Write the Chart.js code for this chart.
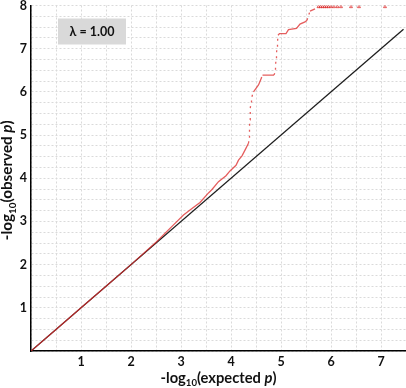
<!DOCTYPE html>
<html>
<head>
<meta charset="utf-8">
<script src="https://cdn.jsdelivr.net/npm/chart.js@4/dist/chart.umd.min.js"></script>
<style>
  html, body { margin: 0; padding: 0; background: #ffffff; }
  canvas { display: block; }
</style>
</head>
<body>
<canvas id="c" width="406" height="388"></canvas>
<script>
// ---- data ----
// red QQ points: expected -log10(p) and observed -log10(p)
const expectedRed = [0, 0.5, 1.0, 1.5, 2.0, 2.5, 2.85, 3.05, 3.2, 3.38, 3.55, 3.62, 3.75, 3.9, 3.98, 4.1, 4.15, 4.22, 4.28, 4.35,
  4.36, 4.37, 4.37, 4.38, 4.38, 4.39, 4.40, 4.41, 4.45, 4.50, 4.55, 4.60, 4.63, 4.70, 4.78, 4.86,
  4.88, 4.89, 4.90, 4.91, 4.92, 4.93, 4.94, 4.97, 5.04, 5.10, 5.15, 5.31, 5.38, 5.48, 5.52, 5.58, 5.68];
const observedRed = [0, 0.5, 1.0, 1.5, 2.0, 2.52, 2.92, 3.15, 3.28, 3.44, 3.66, 3.74, 3.92, 4.06, 4.17, 4.3, 4.42, 4.52, 4.65, 4.81,
  4.90, 5.05, 5.20, 5.35, 5.50, 5.62, 5.75, 5.86, 6.00, 6.08, 6.16, 6.30, 6.39, 6.39, 6.39, 6.39,
  6.45, 6.60, 6.75, 6.90, 7.02, 7.15, 7.31, 7.35, 7.35, 7.35, 7.44, 7.47, 7.57, 7.62, 7.66, 7.87, 7.92];
// capped points at the top of the plot
const expectedTop = [5.75, 5.79, 5.83, 5.87, 5.91, 5.95, 6.0, 6.06, 6.13, 6.2, 6.4, 6.56, 7.08];
const observedTop = [7.97, 7.97, 7.97, 7.97, 7.97, 7.97, 7.97, 7.97, 7.97, 7.97, 7.97, 7.97, 7.97];
// null line (expected = observed)
const diagX = [0, 7.45];
const diagY = [0, 7.45];
// tick labels
const xTickLabels = [1, 2, 3, 4, 5, 6, 7];
const yTickLabels = [1, 2, 3, 4, 5, 6, 7, 8];
const lambdaLabel = 'λ = 1.00';

const FONT = 'Lato, "Open Sans", sans-serif';
const RED = 'rgba(220, 40, 40, 0.75)';

const redPts = expectedRed.map((x, i) => ({ x: x, y: observedRed[i] }));
const topPts = expectedTop.map((x, i) => ({ x: x, y: observedTop[i] }));
const diagPts = diagX.map((x, i) => ({ x: x, y: diagY[i] }));

function fontOf(r, k) {
  return (r.italic ? 'italic ' : '') + 'bold ' + (r.size * k) + 'px ' + FONT;
}
function drawRich(ctx, runs, targetWidth) {
  let total = 0;
  runs.forEach(r => { ctx.font = fontOf(r, 1); total += ctx.measureText(r.t).width; });
  const k = targetWidth / total;
  let w = 0;
  runs.forEach(r => { ctx.font = fontOf(r, k); r.w = ctx.measureText(r.t).width; w += r.w; });
  let x = -w / 2;
  runs.forEach(r => {
    ctx.font = fontOf(r, k);
    ctx.fillText(r.t, x, (r.dy || 0) * k);
    x += r.w;
  });
}

const decorPlugin = {
  id: 'decor',
  afterDraw(chart) {
    const ctx = chart.ctx;
    const a = chart.chartArea;
    ctx.save();
    // lambda box
    ctx.fillStyle = '#d9d9d9';
    ctx.fillRect(a.left + 27, a.top + 13, 68, 26);
    ctx.fillStyle = '#111111';
    ctx.font = 'bold 12.5px ' + FONT;
    ctx.textAlign = 'center';
    ctx.textBaseline = 'alphabetic';
    ctx.fillText(lambdaLabel, a.left + 61, a.top + 30.5);
    // axis titles
    ctx.textAlign = 'left';
    ctx.textBaseline = 'alphabetic';
    ctx.save();
    ctx.translate((a.left + a.right) / 2, 383);
    drawRich(ctx, [
      { t: '-log', size: 13 }, { t: '10', size: 8.5, dy: 3 },
      { t: '(expected ', size: 13 }, { t: 'p', size: 13, italic: true }, { t: ')', size: 13 }
    ], 116);
    ctx.restore();
    ctx.save();
    ctx.translate(12, (a.top + a.bottom) / 2 + 2);
    ctx.rotate(-Math.PI / 2);
    drawRich(ctx, [
      { t: '-log', size: 13 }, { t: '10', size: 8.5, dy: 3 },
      { t: '(observed ', size: 13 }, { t: 'p', size: 13, italic: true }, { t: ')', size: 13 }
    ], 120);
    ctx.restore();
    ctx.restore();
  }
};

new Chart(document.getElementById('c'), {
  type: 'scatter',
  data: {
    datasets: [
      {
        label: 'null',
        data: diagPts,
        showLine: true,
        borderColor: '#1e1e1e',
        borderWidth: 1.3,
        pointRadius: 0,
        pointHoverRadius: 0,
        order: 2
      },
      {
        label: 'observed',
        data: redPts,
        showLine: true,
        borderColor: RED,
        backgroundColor: RED,
        borderWidth: 1.3,
        pointRadius: 0,
        pointHoverRadius: 0,
        segment: {
          borderDash: c => {
            const dx = Math.abs(c.p1.x - c.p0.x), dy = Math.abs(c.p1.y - c.p0.y);
            return (dy > 2.5 * dx && c.p0.parsed.y > 4.7) ? [2, 4] : undefined;
          }
        },
        order: 1
      },
      {
        label: 'top',
        data: topPts,
        showLine: false,
        pointStyle: 'triangle',
        pointRadius: 1.7,
        pointHoverRadius: 1.7,
        borderWidth: 1,
        borderColor: RED,
        backgroundColor: 'rgba(0,0,0,0)',
        order: 1
      }
    ]
  },
  options: {
    responsive: false,
    devicePixelRatio: 1,
    animation: false,
    layout: { autoPadding: false, padding: { top: 5.5, right: 0, left: 0, bottom: 0 } },
    plugins: { legend: { display: false }, tooltip: { enabled: false } },
    scales: {
      x: {
        type: 'linear',
        min: 0, max: 7.5,
        afterFit: s => { s.height = 37; s.paddingLeft = 0; s.paddingRight = 0; },
        afterBuildTicks: s => { s.ticks = []; for (let k = 0; k <= 15; k++) s.ticks.push({ value: k * 0.5 }); },
        ticks: {
          autoSkip: false,
          maxRotation: 0,
          padding: 3,
          color: '#111111',
          font: { family: FONT, size: 12.5, weight: 'bold' },
          callback: v => xTickLabels.includes(v) ? String(v) : ''
        },
        grid: { color: '#dadada', lineWidth: 1, drawTicks: false },
        border: { color: '#000000', width: 1.5, dash: [2, 2] }
      },
      y: {
        type: 'linear',
        min: 0, max: 8,
        afterFit: s => { s.width = 31; s.paddingTop = 0; s.paddingBottom = 0; },
        afterBuildTicks: s => { s.ticks = []; for (let k = 0; k <= 32; k++) s.ticks.push({ value: k * 0.25 }); },
        ticks: {
          autoSkip: false,
          padding: 4,
          color: '#111111',
          font: { family: FONT, size: 12.5, weight: 'bold' },
          callback: v => yTickLabels.includes(v) ? String(v) : ''
        },
        grid: { color: '#dadada', lineWidth: 1, drawTicks: false },
        border: { color: '#000000', width: 1.5, dash: [2, 2] }
      }
    }
  },
  plugins: [decorPlugin]
});
</script>
</body>
</html>
